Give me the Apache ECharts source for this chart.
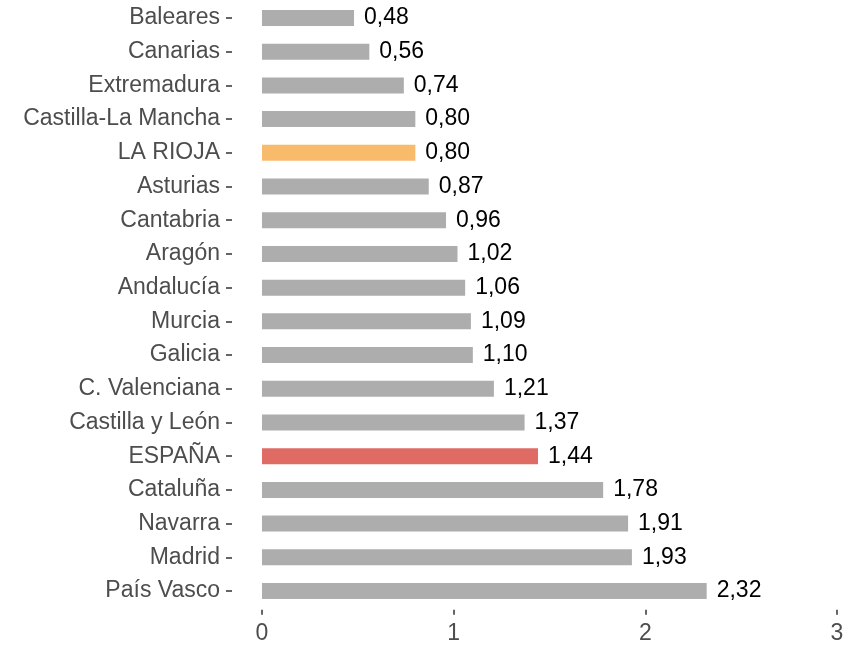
<!DOCTYPE html>
<html>
<head>
<meta charset="utf-8">
<script src="https://cdn.jsdelivr.net/npm/echarts@6/dist/echarts.min.js"></script>
<style>html,body{margin:0;padding:0;background:#fff;}#main{width:852px;height:645px;}</style>
</head>
<body>
<div id="main"></div>
<script>
const categories = ["Baleares","Canarias","Extremadura","Castilla-La Mancha","LA RIOJA","Asturias","Cantabria","Aragón","Andalucía","Murcia","Galicia","C. Valenciana","Castilla y León","ESPAÑA","Cataluña","Navarra","Madrid","País Vasco"];
const values = [0.48,0.56,0.74,0.80,0.80,0.87,0.96,1.02,1.06,1.09,1.10,1.21,1.37,1.44,1.78,1.91,1.93,2.32];
const xTicks = [0,1,2,3];
const highlight = {"LA RIOJA":"#f8bb6c","ESPAÑA":"#e06b65"};
const baseColor = "#adadad";

const chart = echarts.init(document.getElementById('main'), null, {renderer:'canvas'});
const font = '"Liberation Sans", Arial, sans-serif';
chart.setOption({
  animation:false,
  grid:{left:262,right:15,top:1.15,bottom:37.15,containLabel:false},
  xAxis:{type:'value',min:xTicks[0],max:xTicks[xTicks.length-1],interval:1,offset:2,
    axisLine:{show:false,onZero:false},splitLine:{show:false},
    axisTick:{show:true,length:5,lineStyle:{color:'#333',width:1.5}},
    axisLabel:{color:'#4d4d4d',fontSize:23,fontFamily:font,margin:12,formatter:v=>String(v)}},
  yAxis:{type:'category',data:categories,inverse:true,offset:30,
    axisLine:{show:false,onZero:false},splitLine:{show:false},
    axisTick:{show:true,alignWithLabel:true,length:6,lineStyle:{color:'#333',width:1.5}},
    axisLabel:{color:'#4d4d4d',fontSize:23,fontFamily:font,margin:12}},
  series:[{type:'bar',barWidth:16,
    data:values.map((v,i)=>({value:v,itemStyle:{color:highlight[categories[i]]||baseColor}})),
    label:{show:true,position:'right',distance:10,color:'#000',fontSize:23,fontFamily:font,
      formatter:p=>p.value.toFixed(2).replace('.',',')}}]
});
</script>
</body>
</html>
